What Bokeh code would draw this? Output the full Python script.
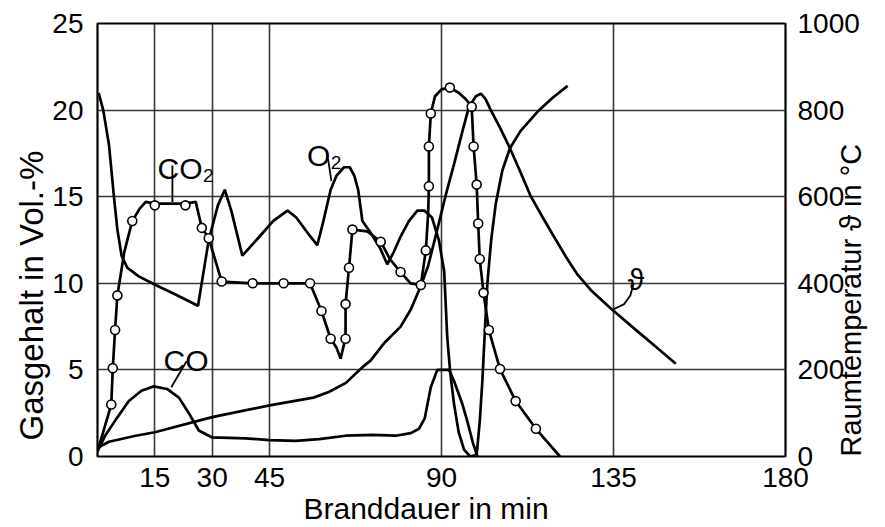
from math import pi
from bokeh.plotting import figure
from bokeh.models import Range1d, LinearAxis, FixedTicker, Label, Title
from bokeh.embed import file_html
from bokeh.resources import INLINE

# ---------------- data ----------------
x_ticks = [15, 30, 45, 90, 135, 180]
gas_ticks = [0, 5, 10, 15, 20, 25]
temp_ticks = [0, 200, 400, 600, 800, 1000]
x_grid = [15, 30, 45, 90, 135]
gas_grid = [5, 10, 15, 20]

# O2 (Vol.-%)
o2_x = [0.3, 1.5, 3.0, 4.3, 5.2, 6.3, 7.8, 10.8, 15.2, 20.0, 26.3, 29.1, 31.5, 33.3,
        35.0, 37.9, 42.0, 46.0, 49.7, 52.0, 55.0, 57.5, 59.0, 61.0, 62.5, 64.5, 66.0,
        67.2, 68.2, 69.3, 71.5, 74.0, 75.8, 77.5, 79.3, 81.5, 83.7, 85.5, 87.5, 89.3,
        90.7, 91.5, 92.3, 93.3, 94.5, 95.9, 97.5, 99.2, 100.0, 100.7, 101.4, 102.0,
        103.0, 104.2, 105.9, 107.9, 110.7, 115.1, 119.0, 123.0]
o2_y = [21.0, 20.0, 18.0, 15.0, 13.1, 11.6, 10.9, 10.4, 9.9, 9.4, 8.7, 12.5, 14.5, 15.4,
        14.2, 11.6, 12.6, 13.6, 14.2, 13.8, 12.9, 12.2, 13.5, 15.4, 16.2, 16.7, 16.7,
        16.2, 15.4, 13.6, 12.9, 12.0, 11.1, 11.8, 12.7, 13.6, 14.2, 14.2, 13.8, 12.5,
        10.7, 6.9, 4.8, 3.0, 1.4, 0.4, 0.0, 0.1, 2.0, 4.4, 7.5, 10.0,
        12.5, 14.6, 16.5, 17.8, 18.8, 19.9, 20.7, 21.4]

# CO2 (Vol.-%) curve
co2_x = [0.0, 3.6, 4.0, 4.6, 5.2, 7.0, 9.1, 11.0, 12.6, 15.0, 19.0, 23.0, 25.7, 27.3,
         29.1, 32.5, 40.6, 48.7, 55.6, 58.6, 61.0, 62.5, 63.6, 64.3, 64.9, 64.9, 65.8,
         66.7, 70.6, 74.1, 76.5, 79.3, 81.9, 84.6, 85.9, 86.5, 86.7, 86.7, 87.2, 88.3,
         90.0, 92.2, 94.5, 96.5, 97.9, 98.4, 99.2, 99.6, 100.0, 101.0, 102.4, 105.3,
         109.4, 114.7, 121.0]
co2_y = [0.3, 3.0, 5.1, 7.3, 9.3, 11.8, 13.6, 14.3, 14.7, 14.6, 14.6, 14.6, 14.7, 13.2,
         12.6, 10.1, 10.0, 10.0, 10.0, 8.4, 6.8, 6.3, 5.65, 6.3, 6.8, 8.8, 10.9,
         13.1, 13.0, 12.4, 11.4, 10.65, 10.0, 9.9, 11.9, 14.0, 15.6, 17.9, 19.8, 20.8,
         21.2, 21.3, 21.0, 20.6, 20.2, 17.9, 15.7, 13.45, 11.4, 9.45, 7.3, 5.05,
         3.2, 1.6, 0.0]
# CO2 measuring points (circles)
co2_pts_x = [3.6, 4.0, 4.6, 5.2, 9.1, 15.0, 23.0, 27.3, 29.1, 32.5, 40.6, 48.7, 55.6,
             58.6, 61.0, 64.9, 64.9, 65.8, 66.7, 74.1, 79.3, 84.6, 85.9, 86.7, 86.7,
             87.2, 92.2, 97.9, 98.4, 99.2, 99.6, 100.0, 101.0, 102.4, 105.3, 109.4, 114.7]
co2_pts_y = [3.0, 5.1, 7.3, 9.3, 13.6, 14.5, 14.5, 13.2, 12.6, 10.1, 10.0, 10.0, 10.0,
             8.4, 6.8, 6.8, 8.8, 10.9, 13.1, 12.4, 10.65, 9.9, 11.9, 15.6, 17.9,
             19.8, 21.3, 20.2, 17.9, 15.7, 13.45, 11.4, 9.45, 7.3, 5.05, 3.2, 1.6]

# CO (Vol.-%)
co_x = [0.0, 2.0, 4.7, 8.2, 11.5, 14.7, 18.2, 21.3, 23.9, 26.5, 30.0, 38.7, 45.0, 51.8,
        58.0, 64.9, 72.0, 78.0, 82.0, 84.1, 85.6, 87.2, 88.9, 92.0, 93.2, 94.2, 95.5,
        96.8, 98.2, 99.4]
co_y = [0.3, 1.2, 2.1, 3.2, 3.8, 4.05, 3.9, 3.4, 2.5, 1.5, 1.1, 1.05, 0.95, 0.9,
        1.0, 1.2, 1.25, 1.2, 1.35, 1.6, 2.2, 4.0, 5.0, 5.0, 4.4, 3.8, 3.0,
        2.0, 0.8, 0.0]

# room temperature (deg C)
temp_x = [0.0, 3.0, 10.0, 15.0, 30.0, 45.0, 56.5, 60.5, 65.0, 69.3, 71.5, 75.0, 79.3,
          82.0, 84.5, 86.5, 89.0, 91.0, 93.3, 95.5, 97.2, 99.0, 100.3, 101.5, 102.9,
          105.5, 107.9, 110.5, 113.4, 116.5, 119.4, 122.5, 125.6, 129.1, 134.3, 141.3,
          146.0, 151.3]
temp_c = [20, 34, 48, 56, 91, 118, 136, 149, 170, 206, 222, 262, 300,
          340, 392, 440, 528, 600, 676, 752, 808, 832, 838, 826, 800,
          756, 712, 660, 600, 552, 508, 462, 420, 384, 342, 289,
          254, 214]

# label leader lines
co2_leader_x = [19.6, 19.6]
co2_leader_y = [16.8, 14.7]
o2_leader_x = [60.3, 61.2]
o2_leader_y = [17.2, 15.9]
co_leader_x = [23.3, 19.3]
co_leader_y = [5.5, 4.0]
th_leader_x = [140.3, 139.4, 137.8, 135.0]
th_leader_y = [10.0, 9.3, 8.8, 8.5]

FONT = "Liberation Sans"

p = figure(width=885, height=527, x_range=Range1d(0, 180), y_range=Range1d(0, 25),
           output_backend="svg", toolbar_location=None,
           min_border_left=97, min_border_right=100, min_border_top=23,
           min_border_bottom=71)
p.extra_y_ranges = {"temp": Range1d(0, 1000)}

p.xaxis.ticker = FixedTicker(ticks=x_ticks)
p.yaxis.ticker = FixedTicker(ticks=gas_ticks)
p.xgrid.ticker = FixedTicker(ticks=x_grid)
p.ygrid.ticker = FixedTicker(ticks=gas_grid)

right_axis = LinearAxis(y_range_name="temp", ticker=FixedTicker(ticks=temp_ticks))
p.add_layout(right_axis, "right")

for ax in [p.xaxis[0], p.yaxis[0], right_axis]:
    ax.axis_line_color = None
    ax.major_tick_line_color = None
    ax.minor_tick_line_color = None
    ax.major_tick_out = 0
    ax.major_tick_in = 0
    ax.minor_tick_out = 0
    ax.minor_tick_in = 0
    ax.major_label_text_font = FONT
    ax.major_label_text_font_size = "28px"
    ax.major_label_text_color = "black"
p.xaxis.major_label_standoff = 11
p.yaxis.major_label_standoff = 14
right_axis.major_label_standoff = 12

# right axis title (reads bottom-to-top)
right_axis.axis_label = "Raumtemperatur \u03d1 in \u00b0C"
right_axis.axis_label_text_font = FONT
right_axis.axis_label_text_font_size = "29px"
right_axis.axis_label_text_font_style = "normal"
right_axis.axis_label_text_color = "black"
right_axis.axis_label_standoff = -12
_props = right_axis.properties()
if "axis_label_orientation" in _props:
    right_axis.axis_label_orientation = pi / 2
if "axis_label_align" in _props:
    right_axis.axis_label_align = "start"

# left and bottom titles
p.add_layout(Title(text="Gasgehalt in Vol.-%", align="left", offset=16,
                   vertical_align="bottom", standoff=0, text_font=FONT,
                   text_font_size="33px", text_font_style="normal",
                   text_color="black"), "left")
p.add_layout(Title(text="Branddauer in min", align="left", offset=206,
                   vertical_align="bottom", standoff=0, text_font=FONT,
                   text_font_size="30px", text_font_style="normal",
                   text_color="black"), "below")

for g in [p.xgrid[0], p.ygrid[0]]:
    g.grid_line_color = "#222222"
    g.grid_line_width = 1.6
    g.grid_line_alpha = 0.9

p.outline_line_color = "black"
p.outline_line_width = 2.2
p.background_fill_color = "white"
p.border_fill_color = "white"

LW = 2.7
p.line(o2_x, o2_y, line_color="black", line_width=LW)
p.line(co_x, co_y, line_color="black", line_width=LW)
p.line(temp_x, temp_c, y_range_name="temp", line_color="black", line_width=LW)
p.line(co2_x, co2_y, line_color="black", line_width=LW)
p.scatter(co2_pts_x, co2_pts_y, marker="circle", size=9, fill_color="white",
          line_color="black", line_width=1.6)

for lx, ly in [(co2_leader_x, co2_leader_y), (o2_leader_x, o2_leader_y),
               (co_leader_x, co_leader_y), (th_leader_x, th_leader_y)]:
    p.line(lx, ly, line_color="black", line_width=1.8)

for txt, x, y in [("CO\u2082", 15.7, 16.65), ("O\u2082", 54.8, 17.4),
                  ("CO", 17.3, 5.55), ("\u03d1", 138.7, 10.2)]:
    p.add_layout(Label(x=x, y=y, text=txt, text_font=FONT, text_font_size="30px",
                       text_color="black", text_align="left",
                       text_baseline="alphabetic"))

open("out.html", "w").write(file_html(p, INLINE))
